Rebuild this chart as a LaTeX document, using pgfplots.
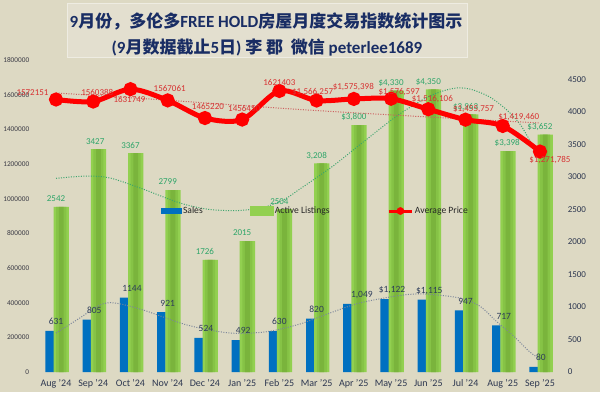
\documentclass[border=0pt]{standalone}
\usepackage{pgfplots}
\usepackage{pgfplotstable}
\pgfplotsset{compat=1.18}
\usepackage{fontspec}
\setmainfont{Carlito}
\newfontfamily\cjk{Noto Sans CJK SC}
\definecolor{bg}{RGB}{221,217,195}
\definecolor{titlefill}{RGB}{227,223,207}
\definecolor{titleborder}{RGB}{238,236,226}
\definecolor{titlecol}{RGB}{25,45,100}
\definecolor{salesblue}{RGB}{0,112,192}
\definecolor{actgreen}{RGB}{146,208,80}
\definecolor{actgreenb}{RGB}{134,195,70}
\definecolor{actgreenc}{RGB}{122,180,60}
\definecolor{salestext}{RGB}{45,60,90}
\definecolor{acttext}{RGB}{45,165,105}
\definecolor{pricetext}{RGB}{215,50,50}
\definecolor{ticktext}{RGB}{45,55,80}
\definecolor{lefttick}{RGB}{60,60,70}
\definecolor{strend}{RGB}{125,135,155}
\definecolor{atrend}{RGB}{60,165,110}
\definecolor{ptrend}{RGB}{205,95,95}

\pgfplotstableread{
x  s     a     sl        al         sdx  adx
0  631   2542  631       2542       0    0
1  805   3427  805       3427       1    2
2  1144  3367  1144      3367       1.5  0
3  921   2799  921       2799       0    0
4  524   1726  524       1726       1    0
5  492   2015  492       2015       1    0
6  630   2504  630       2504       0    0
7  820   3208  820       {3,208}    0    0
8  1049  3800  {1,049}   {\$3,800}  8    0
9  1122  4330  {\$1,122} {\$4,330}  1    0
10 1115  4350  {\$1,115} {\$4,350}  1    0
11 947   3963  947       {\$3,963}  0    0
12 717   3398  717       {\$3,398}  1    4.5
13 80    3652  80        {\$3,652}  1    0
}\datatable

\pgfplotstableread{
x  p        pl             dx    dy
0  1572151  1572151        -23.5 7
1  1560388  1560388        4     9
2  1631749  1631749        -1    -10
3  1567061  1567061        2     12
4  1465220  1465220        3     11
5  1456450  1456450        2     11
6  1621403  1621403        0     8
7  1566257  {\$1,566,257}  -4    9
8  1575398  {\$1,575,398}  -0.5  12
9  1576597  {\$1,576,597}  8     7
10 1516106  {\$1,516,106}  4     11
11 1455757  {\$1,455,757}  8     11
12 1419460  {\$1,419,460}  16    9
13 1271785  {\$1,271,785}  10    -8.5
}\pricetable

\begin{document}
\begin{tikzpicture}
\fill[bg] (0pt,0pt) rectangle (600pt,392pt);
\draw[titleborder, fill=titlefill, line width=1pt] (67pt,335pt) rectangle (467pt,388pt);
\node[font=\fontsize{17}{17}\selectfont\bfseries, color=titlecol, inner sep=0pt] at (266pt,371pt)
  {9{\cjk\bfseries 月份，多伦多}FREE HOLD{\cjk\bfseries 房屋月度交易指数统计图示}};
\node[font=\fontsize{17}{17}\selectfont\bfseries, color=titlecol, inner sep=0pt] at (267pt,344pt)
  {(9{\cjk\bfseries 月数据截止}5{\cjk\bfseries 日}) {\cjk\bfseries 李 郡}\ \ {\cjk\bfseries 微信} peterlee1689};

% right axis: sales and active listings
\begin{axis}[
  at={(37.4pt,20pt)}, anchor=south west, scale only axis,
  width=521.2pt, height=312pt,
  xmin=-0.5, xmax=13.5, ymin=0, ymax=4800,
  axis x line*=bottom, axis y line*=right,
  axis line style={draw=none},
  major tick length=0pt,
  xtick={0,1,2,3,4,5,6,7,8,9,10,11,12,13},
  xticklabels={Aug '24, Sep '24, Oct '24, Nov '24, Dec '24, Jan '25, Feb '25, Mar '25, Apr '25, May '25, Jun '25, Jul '24, Aug '25, Sep '25},
  xticklabel style={font=\fontsize{10}{10}\selectfont, color=ticktext, anchor=base, yshift=-14pt, inner sep=0pt},
  ytick={0,500,1000,1500,2000,2500,3000,3500,4000,4500},
  yticklabel style={font=\fontsize{9}{9}\selectfont, color=ticktext, anchor=west, inner sep=0pt, xshift=9pt,
     /pgf/number format/fixed, /pgf/number format/1000 sep={}},
  scaled y ticks=false,
  /pgf/number format/assume math mode=true,
  clip=false,
]
\addplot[ybar, bar width=0.23, bar shift=-0.17, fill=salesblue, draw=none,
  nodes near coords, point meta=explicit symbolic,
  visualization depends on={\thisrow{sdx} \as \sdx},
  every node near coord/.append style={font=\fontsize{9.5}{9.5}\selectfont, color=salestext,
     anchor=center, inner sep=0pt, text height=1.4ex, text depth=0.2ex, yshift=9pt, xshift=\sdx pt}]
  table[x=x, y=s, meta=sl] {\datatable};
\addplot[ybar, bar width=0.41, bar shift=0.14, fill=actgreen, draw=none,
  nodes near coords, point meta=explicit symbolic,
  visualization depends on={\thisrow{adx} \as \adx},
  every node near coord/.append style={font=\fontsize{9}{9}\selectfont, color=acttext,
     anchor=center, inner sep=0pt, text height=1.4ex, text depth=0.2ex, yshift=8pt, xshift=\adx pt}]
  table[x=x, y=a, meta=al] {\datatable};
\addplot[ybar, bar width=0.27, bar shift=0.14, fill=actgreenb, draw=none, forget plot]
  table[x=x, y=a] {\datatable};
\addplot[ybar, bar width=0.13, bar shift=0.14, fill=actgreenc, draw=none, forget plot]
  table[x=x, y=a] {\datatable};
% trend lines
\addplot[smooth, color=strend, line width=1pt, dash pattern=on 1pt off 1.5pt] coordinates {
 (0,600) (0.64,831) (1.18,1031) (1.58,1062) (2.34,954) (3.52,723) (4.67,600) (5.66,620)
 (6.55,738) (7.36,908) (8.16,1062) (9.23,1177) (9.91,1200) (10.85,1138) (11.38,1015)
 (11.84,774) (12.32,538) (12.72,312) (13,200)};
\addplot[smooth, color=atrend, line width=1pt, dash pattern=on 1pt off 1.5pt] coordinates {
 (0,2980) (0.83,3015) (1.45,2985) (2.26,2831) (3.33,2600) (4.13,2500) (4.93,2485) (5.61,2538)
 (6.15,2662) (6.55,2815) (7.44,3169) (8.32,3569) (9.23,3969) (10.04,4246) (10.66,4362)
 (11.11,4354) (11.65,4231) (12.11,4031) (12.46,3815) (12.72,3569) (13,3292)};
\end{axis}

% left axis: average price
\begin{axis}[
  at={(37.4pt,20pt)}, anchor=south west, scale only axis,
  width=521.2pt, height=312pt,
  xmin=-0.5, xmax=13.5, ymin=0, ymax=1800000,
  axis x line=none, axis y line*=left,
  axis line style={draw=none},
  major tick length=0pt,
  xtick=\empty,
  ytick={0,200000,400000,600000,800000,1000000,1200000,1400000,1600000,1800000},
  yticklabel style={font=\fontsize{7.3}{7.3}\selectfont, color=lefttick, anchor=east, inner sep=0pt, xshift=-8pt,
     /pgf/number format/fixed, /pgf/number format/precision=0, /pgf/number format/1000 sep={}},
  scaled y ticks=false,
  /pgf/number format/assume math mode=true,
  clip=false,
  legend style={at={(0.237,0.516)}, anchor=west, draw=none, fill=none, inner sep=0pt,
     legend columns=3, column sep=0pt, font=\fontsize{9.6}{10}\selectfont,
     nodes={inner sep=1.5pt, text=black!85}},
]
\addlegendimage{legend image code/.code={\fill[salesblue] (0pt,-2.5pt) rectangle (20pt,2.5pt);}}
\addlegendentry{\makebox[65pt][l]{Sales}}
\addlegendimage{legend image code/.code={\fill[actgreen] (0pt,-4.5pt) rectangle (23.5pt,4.5pt);}}
\addlegendentry{\makebox[111pt][l]{Active Listings}}
\addlegendimage{legend image code/.code={\draw[red, line width=3pt] (0pt,0pt) -- (23pt,0pt); \fill[red] (11.5pt,0pt) circle (3.6pt);}}
\addlegendentry{Average Price}
\addplot[forget plot, color=ptrend, line width=1pt, dash pattern=on 1pt off 1.5pt, smooth] coordinates {
 (0,1609615) (2.52,1575000) (6.55,1514423) (9.77,1474038) (13,1436538)};
\addplot[forget plot, smooth, color=red, line width=5pt, mark=*, mark size=4.5pt,
  mark options={draw=none, fill=red},
  nodes near coords, point meta=explicit symbolic,
  visualization depends on={\thisrow{dx} \as \pdx},
  visualization depends on={\thisrow{dy} \as \pdy},
  every node near coord/.append style={font=\fontsize{9}{9}\selectfont, color=pricetext,
     anchor=center, inner sep=0pt, text height=1.4ex, text depth=0.2ex, xshift=\pdx pt, yshift=\pdy pt}]
  table[x=x, y=p, meta=pl] {\pricetable};
\end{axis}
\pgfresetboundingbox
\useasboundingbox (0pt,0pt) rectangle (600pt,392pt);
\end{tikzpicture}
\end{document}
